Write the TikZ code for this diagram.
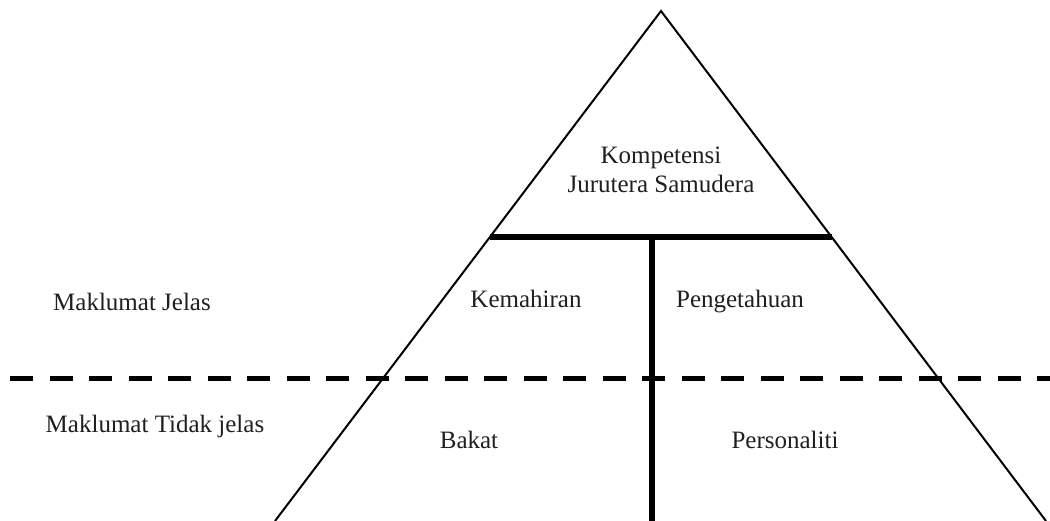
\documentclass[tikz,border=0pt]{standalone}
\usepackage{fontspec}
\setmainfont{Liberation Serif}
\usetikzlibrary{calc}

\begin{document}
\begin{tikzpicture}[x=1pt,y=-1pt,
	lbl/.style={font=\fontsize{25}{29.7}\selectfont,anchor=base,inner sep=0pt,align=center,text=black!88},
	edgeline/.style={line width=2pt,line join=miter},
	thickline/.style={line width=5.3pt}]
	\useasboundingbox (0,0) rectangle (1050,521);

	% pyramid corners
	\coordinate (apex) at (661,11);
	\coordinate (bl) at (275,521);
	\coordinate (br) at (1046,521);
	\draw[edgeline] (bl) -- (apex) -- (br);

	% T divider
	\coordinate (tl) at ($(apex)!0.443!(bl)$);
	\coordinate (tr) at ($(apex)!0.443!(br)$);
	\coordinate (tm) at (652,237);
	\coordinate (bm) at (652,521);
	\draw[thickline] (tl) -- (tr);
	\draw[thickline] (tm) -- (bm);

	% dashed boundary
	\coordinate (dl) at (10,378.5);
	\coordinate (dr) at (1050,378.5);
	\draw[thickline,dash pattern=on 23pt off 16.5pt] (dl) -- (dr);

	\draw (661,193) node (top) [lbl] {Kompetensi\\Jurutera Samudera};
	\draw (526,308) node (skill) [lbl] {Kemahiran};
	\draw (740,308) node (know) [lbl] {Pengetahuan};
	\draw (469,448) node (talent) [lbl] {Bakat};
	\draw (785,448) node (person) [lbl] {Personaliti};
	\draw (132,311) node (clear) [lbl] {Maklumat Jelas};
	\draw (155,432) node (unclear) [lbl] {Maklumat Tidak jelas};
\end{tikzpicture}
\end{document}
